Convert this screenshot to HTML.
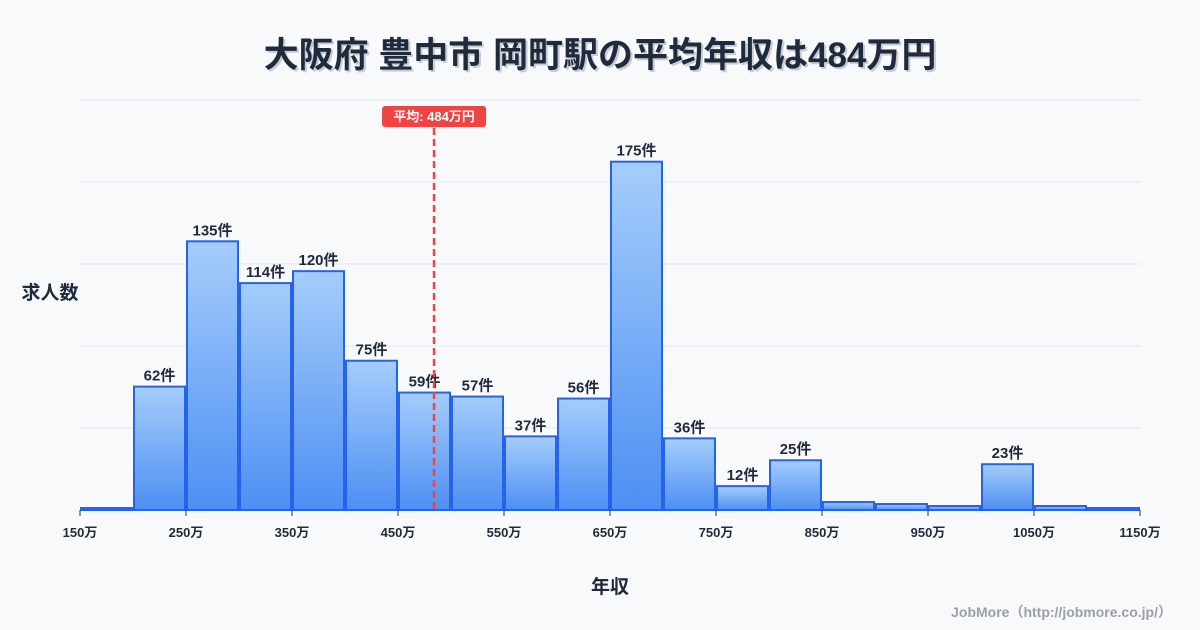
<!DOCTYPE html>
<html><head><meta charset="utf-8"><style>
body{margin:0;background:#f8f9fb;font-family:"Liberation Sans","Noto Sans CJK JP",sans-serif;}
svg{display:block}
</style></head><body>
<svg id="c" width="1200" height="630">
<defs><linearGradient id="g" x1="0" y1="0" x2="0" y2="1"><stop offset="0" stop-color="#a5cdfb"/><stop offset="1" stop-color="#4d8ff3"/></linearGradient></defs>
<text x="600" y="67" text-anchor="middle" font-size="35" font-weight="bold" fill="#c8ccd4" transform="translate(2,2)" font-family="Liberation Sans, Noto Sans CJK JP, sans-serif">大阪府 豊中市 岡町駅の平均年収は484万円</text>
<text x="600" y="67" text-anchor="middle" font-size="35" font-weight="bold" fill="#1f2a3c" font-family="Liberation Sans, Noto Sans CJK JP, sans-serif">大阪府 豊中市 岡町駅の平均年収は484万円</text>
<text x="50" y="299" text-anchor="middle" font-size="19" font-weight="bold" fill="#1f2a3c" font-family="Liberation Sans, Noto Sans CJK JP, sans-serif">求人数</text>
<text x="610" y="593" text-anchor="middle" font-size="19" font-weight="bold" fill="#1f2a3c" font-family="Liberation Sans, Noto Sans CJK JP, sans-serif">年収</text>
<text x="1172" y="617" text-anchor="end" font-size="14" font-weight="bold" fill="#9aa0a8" font-family="Liberation Sans, Noto Sans CJK JP, sans-serif">JobMore（http://jobmore.co.jp/）</text>
<g id="grid"></g><g id="bars"></g><g id="axis"></g><g id="avg"></g>
</svg>
<script>
const binStarts=[150,200,250,300,350,400,450,500,550,600,650,700,750,800,850,900,950,1000,1050,1100];
const counts=[1,62,135,114,120,75,59,57,37,56,175,36,12,25,4,3,2,23,2,1];
const labeled=[false,true,true,true,true,true,true,true,true,true,true,true,true,true,false,false,false,true,false,false];
const tickVals=[150,250,350,450,550,650,750,850,950,1050,1150];
const avgVal=484;
const yMax=206;
const gridCount=5;
const X0=80,X1=1140,Y0=510,Y1=100;
const xs=v=>X0+(v-150)/(1150-150)*(X1-X0);
const ys=v=>Y0-v/yMax*(Y0-Y1);
const NS="http://www.w3.org/2000/svg";
function mk(t,a,p){const e=document.createElementNS(NS,t);for(const k in a)e.setAttribute(k,a[k]);p.appendChild(e);return e;}
const F="Liberation Sans, Noto Sans CJK JP, sans-serif";
const grid=document.getElementById('grid');
for(let i=1;i<=gridCount;i++){const y=Y0-(Y0-Y1)*i/gridCount;
const l=mk('line',{x1:X0,x2:X1,y1:y,y2:y,stroke:'#e3e7ec','stroke-width':1},grid);

}
const bars=document.getElementById('bars');
binStarts.forEach((b,i)=>{const x=xs(b)+1,w=xs(b+50)-xs(b)-2,y=ys(counts[i]);
const r=mk('rect',{x:x,y:y,width:w,height:Math.max(Y0-y,1),fill:'url(#g)',stroke:'#2563eb','stroke-width':2},bars);


if(labeled[i]){const t=mk('text',{x:x+w/2,y:y-6,'text-anchor':'middle','font-size':15,'font-weight':'bold',fill:'#1f2a3c','font-family':F},bars);t.textContent=counts[i]+'件';

}
});
const ax=document.getElementById('axis');
tickVals.forEach(v=>{const x=xs(v);
mk('line',{x1:x,x2:x,y1:Y0,y2:Y0+6,stroke:'#333','stroke-width':1},ax);
const t=mk('text',{x:x,y:537,'text-anchor':'middle','font-size':13,'font-weight':'bold',fill:'#1f2a3c','font-family':F},ax);t.textContent=v+'万';

});
const av=document.getElementById('avg');const ax2=xs(avgVal);
const ln=mk('line',{x1:ax2,x2:ax2,y1:128,y2:Y0,stroke:'#ef4444','stroke-width':2.5,'stroke-dasharray':'7,4'},av);


const bg=mk('rect',{x:ax2-52,y:106,width:104,height:21,rx:3,fill:'#ef4444'},av);


const at=mk('text',{x:ax2,y:121,'text-anchor':'middle','font-size':13,'font-weight':'bold',fill:'#fff','font-family':F},av);at.textContent='平均: '+avgVal+'万円';


</script>
</body></html>
